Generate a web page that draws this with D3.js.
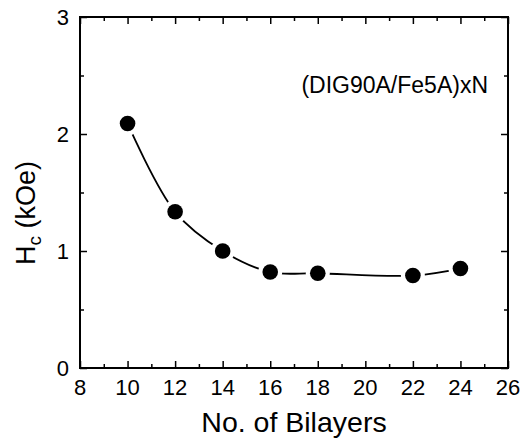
<!DOCTYPE html>
<html>
<head>
  <meta charset="utf-8">
  <title>Hc vs bilayers</title>
  <script src="https://d3js.org/d3.v7.min.js"></script>
  <style>
    body { margin: 0; background: #fff; }
    text { font-family: "Liberation Sans", Arial, sans-serif; fill: #000; }
  </style>
</head>
<body>
<script>
  // data
  var bilayers = [10, 12, 14, 16, 18, 22, 24]
  var hc = [2.09, 1.335, 1.0, 0.82, 0.81, 0.79, 0.85]
  var xTicks = [8, 10, 12, 14, 16, 18, 20, 22, 24, 26]
  var yTicks = [0, 1, 2, 3]

  var W = 526, H = 439
  var m = {left: 80, right: 18, top: 17, bottom: 71}

  var svg = d3.select("body").append("svg")
      .attr("width", W).attr("height", H)

  var x = d3.scaleLinear().domain([8, 26]).range([m.left, W - m.right])
  var y = d3.scaleLinear().domain([0, 3]).range([H - m.bottom, m.top])

  // inward ticks on all four sides
  var minorX = d3.range(9, 26, 2), minorY = [0.5, 1.5, 2.5]
  function tickAxis(axis, major, minor) {
    var g1 = svg.append("g").call(axis.tickValues(major).tickSize(7).tickFormat(""))
    var g2 = svg.append("g").call(axis.tickValues(minor).tickSize(4).tickFormat(""))
    return [g1, g2]
  }
  var axes = [
    [d3.axisTop(x), "translate(0," + y(0) + ")", xTicks, minorX],
    [d3.axisBottom(x), "translate(0," + y(3) + ")", xTicks, minorX],
    [d3.axisRight(y), "translate(" + x(8) + ",0)", yTicks, minorY],
    [d3.axisLeft(y), "translate(" + x(26) + ",0)", yTicks, minorY]
  ]
  axes.forEach(function(a) {
    tickAxis(a[0], a[2], a[3]).forEach(function(g) {
      g.attr("transform", a[1])
      g.select(".domain").remove()
      g.selectAll("line").attr("stroke", "#000").attr("stroke-width", 1.5)
    })
  })

  // frame
  svg.append("rect")
    .attr("x", x(8)).attr("y", y(3))
    .attr("width", x(26) - x(8)).attr("height", y(0) - y(3))
    .attr("fill", "none").attr("stroke", "#000").attr("stroke-width", 2)

  // tick labels
  svg.selectAll(".xl").data(xTicks).enter().append("text")
    .attr("x", function(d) { return x(d) }).attr("y", y(0) + 27)
    .attr("text-anchor", "middle").attr("font-size", 22)
    .text(function(d) { return d })
  svg.selectAll(".yl").data(yTicks).enter().append("text")
    .attr("x", x(8) - 11).attr("y", function(d) { return y(d) + 8 })
    .attr("text-anchor", "end").attr("font-size", 22)
    .text(function(d) { return d })

  // axis titles
  svg.append("text")
    .attr("x", (x(8) + x(26)) / 2).attr("y", 432)
    .attr("text-anchor", "middle").attr("font-size", 28.5)
    .text("No. of Bilayers")
  var yt = svg.append("text")
    .attr("transform", "translate(35,213) rotate(-90)")
    .attr("text-anchor", "middle").attr("font-size", 27)
  yt.append("tspan").text("H")
  yt.append("tspan").attr("font-size", 19).attr("dy", 6).text("c")
  yt.append("tspan").attr("dy", -6).text(" (kOe)")

  // label
  svg.append("text")
    .attr("x", 488).attr("y", 93)
    .attr("text-anchor", "end").attr("font-size", 23)
    .text("(DIG90A/Fe5A)xN")

  // smooth line + markers with white halo
  var pts = bilayers.map(function(d, i) { return [d, hc[i]] })
  var line = d3.line()
    .x(function(d) { return x(d[0]) }).y(function(d) { return y(d[1]) })
    .curve(d3.curveCatmullRom.alpha(0.5))
  svg.append("path").datum(pts).attr("d", line)
    .attr("fill", "none").attr("stroke", "#000").attr("stroke-width", 1.8)

  svg.selectAll(".halo").data(pts).enter().append("circle")
    .attr("cx", function(d) { return x(d[0]) }).attr("cy", function(d) { return y(d[1]) })
    .attr("r", 12).attr("fill", "#fff")
  svg.selectAll(".dot").data(pts).enter().append("circle")
    .attr("cx", function(d) { return x(d[0]) }).attr("cy", function(d) { return y(d[1]) })
    .attr("r", 7.8).attr("fill", "#000")
</script>
</body>
</html>
